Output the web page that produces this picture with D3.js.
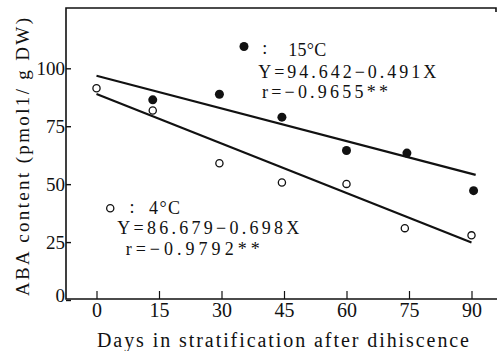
<!DOCTYPE html>
<html>
<head>
<meta charset="utf-8">
<script src="https://cdn.jsdelivr.net/npm/d3@7"></script>
<style>
  html, body { margin: 0; padding: 0; background: #fff; }
  svg { display: block; }
</style>
</head>
<body>
<svg id="chart" width="497" height="351"></svg>
<script>
// data
const days4 = [0, 13.5, 29.5, 44.5, 60, 74, 90];
const aba4 = [91.4, 81.8, 59.0, 50.7, 50.1, 31.0, 27.9];
const days15 = [13.5, 29.5, 44.5, 60, 74.5, 90.5];
const aba15 = [86.4, 88.8, 78.9, 64.5, 63.4, 47.2];

// regression lines as drawn
const fitDays4 = [0, 90];
const fitAba4 = [88.9, 24.8];
const fitDays15 = [0, 91];
const fitAba15 = [96.8, 54.0];

const xTicks = [0, 15, 30, 45, 60, 75, 90];
const yTicks = [0, 25, 50, 75, 100];

const serif = 'Liberation Serif';
const svg = d3.select('#chart').attr('font-family', serif);
const frame = { left: 66, top: 8, bottom: 299, right: 497 };

const x = d3.scaleLinear().domain([0, 90]).range([96.5, 471.5]);
const y = d3.scaleLinear().domain([0, 100]).range([300, 68.3]);

// frame (left, top, bottom - right side open)
svg.append('path')
  .attr('d', `M${frame.right},${frame.bottom}H${frame.left}V${frame.top}H${frame.right - 1}v4`)
  .attr('fill', 'none')
  .attr('stroke', '#111')
  .attr('stroke-width', 1.6);

// x axis
const xAxis = d3.axisBottom(x).tickValues(xTicks).tickSize(-8).tickPadding(4);
const gx = svg.append('g')
  .attr('transform', `translate(0,${frame.bottom})`)
  .call(xAxis)
  .attr('font-family', serif);
gx.select('.domain').remove();
gx.selectAll('.tick line').attr('stroke', '#111').attr('stroke-width', 1.2);
gx.selectAll('.tick text')
  .attr('font-size', 20)
  .attr('fill', '#111');

// y axis
const yAxis = d3.axisLeft(y).tickValues(yTicks).tickSize(-5).tickPadding(8);
const gy = svg.append('g')
  .attr('transform', `translate(${frame.left},0)`)
  .call(yAxis)
  .attr('font-family', serif);
gy.select('.domain').remove();
gy.selectAll('.tick line').attr('stroke', '#111').attr('stroke-width', 1.4);
gy.selectAll('.tick text')
  .attr('font-size', 19)
  .attr('fill', '#111')
  .attr('x', -1);
gy.selectAll('.tick').filter(d => d === 0).select('text').attr('dy', '0.1em');

// axis titles
svg.append('text')
  .attr('x', 283)
  .attr('y', 347)
  .attr('text-anchor', 'middle')
  .attr('font-size', 20)
  .attr('fill', '#111')
  .attr('textLength', 372)
  .attr('lengthAdjust', 'spacing')
  .text('Days in stratification after dihiscence');

svg.append('text')
  .attr('transform', 'translate(29,157) rotate(-90)')
  .attr('text-anchor', 'middle')
  .attr('font-size', 19)
  .attr('fill', '#111')
  .attr('textLength', 278)
  .attr('lengthAdjust', 'spacing')
  .text('ABA content (pmol1/ g DW)');

// regression lines
const line = d3.line().x(d => x(d[0])).y(d => y(d[1]));
svg.append('path')
  .datum(d3.zip(fitDays15, fitAba15))
  .attr('d', line)
  .attr('fill', 'none')
  .attr('stroke', '#111')
  .attr('stroke-width', 2.2);
svg.append('path')
  .datum(d3.zip(fitDays4, fitAba4))
  .attr('d', line)
  .attr('fill', 'none')
  .attr('stroke', '#111')
  .attr('stroke-width', 2.2);

// points
svg.selectAll('circle.p15')
  .data(d3.zip(days15, aba15))
  .enter().append('circle')
  .attr('class', 'p15')
  .attr('cx', d => x(d[0]))
  .attr('cy', d => y(d[1]))
  .attr('r', 4.5)
  .attr('fill', '#111');

svg.selectAll('circle.p4')
  .data(d3.zip(days4, aba4))
  .enter().append('circle')
  .attr('class', 'p4')
  .attr('cx', d => x(d[0]))
  .attr('cy', d => y(d[1]))
  .attr('r', 3.6)
  .attr('fill', '#fff')
  .attr('stroke', '#111')
  .attr('stroke-width', 1.3);

// annotations (anchored in data units)
function note(day, val, str, width) {
  const t = svg.append('text')
    .attr('x', x(day))
    .attr('y', y(val))
    .attr('font-size', 18)
    .attr('fill', '#111')
    .text(str);
  if (width) t.attr('textLength', width).attr('lengthAdjust', 'spacing');
  return t;
}

// 15°C
svg.append('circle')
  .attr('cx', x(35.4)).attr('cy', y(109.4))
  .attr('r', 4.5).attr('fill', '#111');
note(39.8, 106.0, ':');
note(46.0, 105.5, '15°C', 38);
note(38.8, 96.0, 'Y=94.642−0.491X', 178);
note(39.7, 87.0, 'r=−0.9655**', 126);

// 4°C
svg.append('circle')
  .attr('cx', x(3.3)).attr('cy', y(39.6))
  .attr('r', 3.6).attr('fill', '#fff')
  .attr('stroke', '#111').attr('stroke-width', 1.3);
note(7.9, 37.5, ':');
note(12.6, 37.0, '4°C', 31);
note(5.0, 28.5, 'Y=86.679−0.698X', 182);
note(7.0, 19.3, 'r=−0.9792**', 134);
</script>
</body>
</html>
